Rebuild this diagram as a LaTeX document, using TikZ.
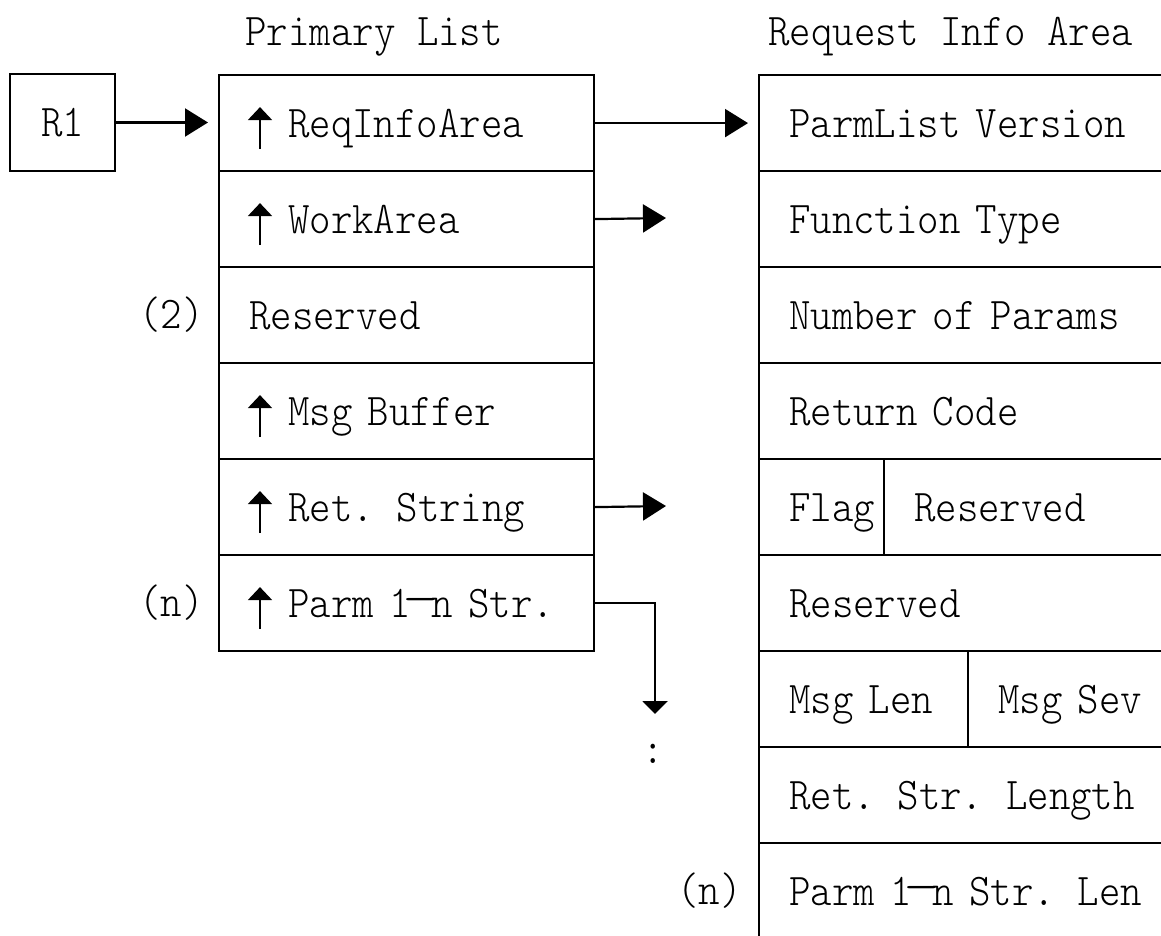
\documentclass[tikz,border=0pt]{standalone}
\usepackage{fontspec}
\usepackage{graphicx}
\newfontfamily\cellfont{lmmonolt10-regular.otf}[FakeStretch=0.9]
\usetikzlibrary{arrows.meta}
% room for the pointer mark in front of a field name
\newcommand\ptrgap{\hspace*{19.5pt}}
% dash between range bounds, one character wide, set at x-height
\newcommand\rng{\makebox[10.7pt][c]{\raisebox{2pt}{\scalebox{1.7}[1]{—}}}}
\tikzset{
  lbl/.style={font=\cellfont\fontsize{22.7}{26}\selectfont,
    text height=18pt, text depth=4pt, inner ysep=0pt},
  cell/.style={lbl, draw, line width=1.1pt, anchor=north west,
    minimum height=48pt, minimum width=#1, text width=#1-30pt,
    inner xsep=15pt, align=left},
  ptrarrow/.style={line width=1.1pt, -{Triangle[length=11.5pt,width=14pt]}},
  ptrdown/.style={line width=1.1pt, -{Triangle[length=6.5pt,width=12.5pt]}},
  ptrmark/.style={line width=1pt, -{Triangle[length=6.5pt,width=12pt]}},
}
\begin{document}
\begin{tikzpicture}[x=1pt,y=-1pt]
\useasboundingbox (0,0) rectangle (580.5,468);
\clip (0,0) rectangle (580.5,468);

% titles
\node[lbl, anchor=west, inner xsep=0pt] (tprim) at (122.5,16) {Primary List};
\node[lbl, anchor=west, inner xsep=0pt] (treq) at (384,16) {Request Info Area};

% register box
\node[lbl, draw, line width=1.1pt, minimum width=52.5pt, minimum height=48.5pt] (reg) at (31.25,61.25) {R1};

% primary list
\node[cell=187.5pt] (p1) at (109,37)  {\ptrgap ReqInfoArea};
\node[cell=187.5pt] (p2) at (109,85)  {\ptrgap WorkArea};
\node[cell=187.5pt] (p3) at (109,133) {Reserved};
\node[cell=187.5pt] (p4) at (109,181) {\ptrgap Msg Buffer};
\node[cell=187.5pt] (p5) at (109,229) {\ptrgap Ret. String};
\node[cell=187.5pt] (p6) at (109,277) {\ptrgap Parm 1\rng n Str.};

% pointer marks in front of the address fields
\foreach \n in {p1,p2,p4,p5,p6}
  \draw[ptrmark] ([shift={(21pt,-13pt)}]\n.west) -- ([shift={(21pt,8pt)}]\n.west);

\node[lbl, anchor=east, inner xsep=0pt] (c2) at (102,157) {(2)};
\node[lbl, anchor=east, inner xsep=0pt] (cn) at (102,301) {(n)};

% request info area (runs past the right and bottom edges)
\node[cell=220pt] (r1) at (379,37)  {ParmList Version};
\node[cell=220pt] (r2) at (379,85)  {Function Type};
\node[cell=220pt] (r3) at (379,133) {Number of Params};
\node[cell=220pt] (r4) at (379,181) {Return Code};
\node[cell=62.5pt] (r5a) at (379,229) {Flag};
\node[cell=157.5pt] (r5b) at (441.5,229) {Reserved};
\node[cell=220pt] (r6) at (379,277) {Reserved};
\node[cell=104.5pt] (r7a) at (379,325) {Msg Len};
\node[cell=115.5pt] (r7b) at (483.5,325) {Msg Sev};
\node[cell=220pt] (r8) at (379,373) {Ret. Str. Length};
\node[cell=220pt] (r9) at (379,421) {Parm 1\rng n Str. Len};

\node[lbl, anchor=east, inner xsep=0pt] (rn) at (371,445) {(n)};

% pointers
\draw[ptrarrow, shorten >=5pt] (reg.east) -- (reg.east -| p1.west);
\draw[ptrarrow, shorten >=5pt] (p1.east) -- (p1.east -| r1.west);
\coordinate (wa) at (333,109);
\draw[ptrarrow] (p2.east) -- (wa);
\coordinate (rs) at (333,253);
\draw[ptrarrow] (p5.east) -- (rs);
\coordinate (pd) at (327.5,357);
\draw[ptrdown] (p6.east) -| (pd);
\node[lbl, inner sep=0pt] (more) at (326.5,374.5) {:};
\end{tikzpicture}
\end{document}
